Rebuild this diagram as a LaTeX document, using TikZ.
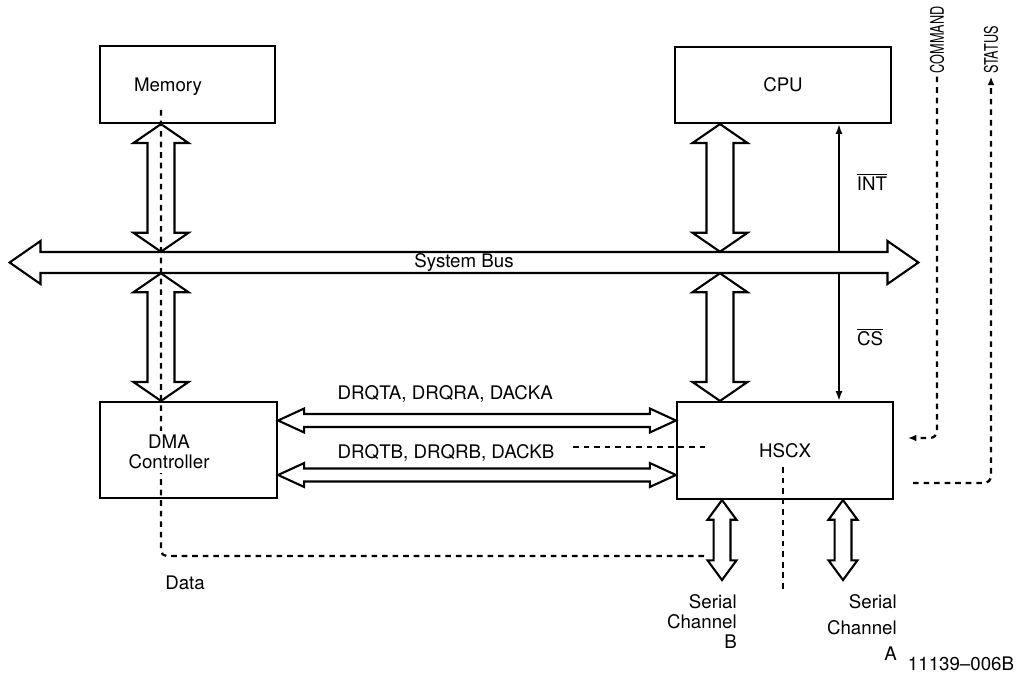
\documentclass[tikz,border=0pt]{standalone}
\usepackage{fontspec}
\setmainfont{TeX Gyre Heros}
\usetikzlibrary{arrows.meta,positioning,calc}

\newcommand{\vbus}[5]{\draw[fat] let \p1=(#1), \p2=(#2) in (\x1,\y1) -- (\x1+#4,\y1-#5) -- (\x1+#3,\y1-#5) -- (\x1+#3,\y2+#5) -- (\x1+#4,\y2+#5) -- (\x1,\y2) -- (\x1-#4,\y2+#5) -- (\x1-#3,\y2+#5) -- (\x1-#3,\y1-#5) -- (\x1-#4,\y1-#5) -- cycle;}
\newcommand{\hbus}[5]{\draw[fat] let \p1=(#1), \p2=(#2) in (\x1,\y1) -- (\x1+#5,\y1+#4) -- (\x1+#5,\y1+#3) -- (\x2-#5,\y1+#3) -- (\x2-#5,\y1+#4) -- (\x2,\y1) -- (\x2-#5,\y1-#4) -- (\x2-#5,\y1-#3) -- (\x1+#5,\y1-#3) -- (\x1+#5,\y1-#4) -- cycle;}

\begin{document}
\begin{tikzpicture}[
  x=0.025cm,y=-0.025cm,
  font=\fontsize{13.3}{14.2}\selectfont,
  box/.style={draw,line width=1.5pt,inner sep=0pt,align=center},
  fat/.style={line width=1.5pt,line join=miter},
  sig/.style={line width=1.4pt,-{Latex[length=7pt,width=5pt]}},
  dashline/.style={line width=1.6pt,dash pattern=on 4pt off 3.5pt},
  tip/.style={-{Latex[length=6pt,width=5pt]}},
  lbl/.style={inner sep=1pt},
  side/.style={rotate=90,inner sep=2pt}
]
\useasboundingbox (0,0) rectangle (1018,676);
\node[box,minimum width=4.375cm,minimum height=1.925cm] (mem) at (187.5,84.5) {};
\node[box,minimum width=5.4cm,minimum height=1.9cm] (cpu) at (783,85) {CPU};
\node[box,minimum width=4.425cm,minimum height=2.4cm] (dma) at (188.5,450) {};
\node[box,minimum width=5.4cm,minimum height=2.425cm] (hscx) at (785,450.5) {HSCX};
\node[inner sep=0pt,minimum width=22.7cm,minimum height=0.525cm] (bus) at (464,262.5) {System Bus};
\coordinate (lx) at (161,0);
\coordinate (rx) at (720,0);
\coordinate (ix) at (839,0);
\coordinate (qa) at (0,420.5);
\coordinate (qb) at (0,475);
\coordinate (serB) at (722,580);
\coordinate (serA) at (843,580);
\coordinate (dtop) at (161,110);
\coordinate (dend) at (705,556);
\coordinate (hl) at (573,447);
\coordinate (hr) at (710,447);
\coordinate (vt) at (783,467);
\coordinate (vb) at (783,590);
\coordinate (cmdtip) at (908,438);
\coordinate (stsend) at (913,483);
\draw[dashline,rounded corners=4pt] (dtop) |- (dend);
\draw[dashline] (hl) -- (hr);
\draw[dashline] (vt) -- (vb);
\node[lbl] (memtxt) at (168,87) {Memory};
\node[lbl,fill=white,align=center,inner sep=3pt] (dmatxt) at (169,452) {DMA\\Controller};
\vbus{mem.south -| lx}{bus.north}{9.6pt}{19.6pt}{13.5pt}
\vbus{bus.south -| lx}{dma.north}{9.6pt}{19.6pt}{13.5pt}
\vbus{cpu.south -| rx}{bus.north}{9.6pt}{19.6pt}{13.5pt}
\vbus{bus.south -| rx}{hscx.north}{9.6pt}{19.6pt}{13.5pt}
\hbus{bus.west}{bus.east}{7.5pt}{15.3pt}{22pt}
\hbus{dma.east |- qa}{hscx.west}{4.6pt}{8.5pt}{18.5pt}
\hbus{dma.east |- qb}{hscx.west}{4.6pt}{8.5pt}{18.5pt}
\vbus{hscx.south -| serB}{serB}{6pt}{10.3pt}{14pt}
\vbus{hscx.south -| serA}{serA}{6pt}{10.3pt}{14pt}
\draw[sig] (bus.north -| ix) -- (cpu.south -| ix);
\draw[sig] (bus.south -| ix) -- (hscx.north -| ix);
\node[lbl] (int) at (872,182) {$\overline{\mbox{INT}}$};
\node[lbl] (cs) at (870,337) {$\overline{\mbox{CS}}$};
\node[lbl,anchor=west] (drqa) at (336,394) {DRQTA, DRQRA, DACKA};
\node[lbl,anchor=west] (drqb) at (336,453) {DRQTB, DRQRB, DACKB};
\node[side] (cmd) at (937,40) {\scalebox{0.68}[1]{COMMAND}};
\node[side] (sts) at (991,50) {\scalebox{0.68}[1]{STATUS}};
\draw[dashline,rounded corners=5pt,tip] (cmd.west) |- (cmdtip);
\draw[dashline,rounded corners=5pt,tip] (stsend) -| (sts.west);
\node[lbl] (data) at (185,583) {Data};
\node[inner sep=0pt,align=right,anchor=north east] (chB) at (737,594) {Serial\\Channel\\B};
\node[inner sep=0pt,align=right,anchor=north east,font=\fontsize{13.3}{18.5}\selectfont] (chA) at (897,594) {Serial\\Channel\\A};
\node[lbl] (fig) at (961,664) {11139--006B};
\end{tikzpicture}
\end{document}
